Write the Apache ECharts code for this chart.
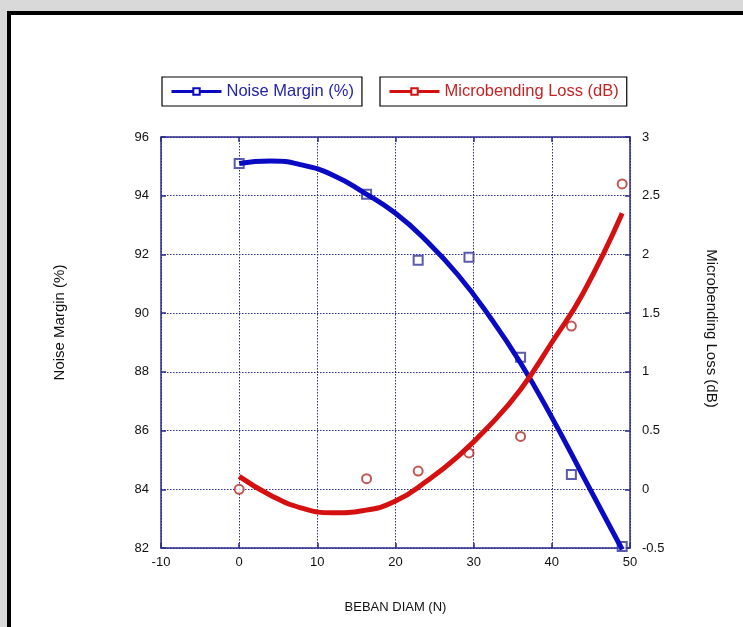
<!DOCTYPE html>
<html>
<head>
<meta charset="utf-8">
<script src="https://cdn.jsdelivr.net/npm/echarts@6/dist/echarts.min.js"></script>
<style>
  html, body { margin: 0; padding: 0; background: #d9d9d9; }
  #frame { position: absolute; left: 7px; top: 11px; width: 760px; height: 640px;
    background: #fff; border-left: 4px solid #000; border-top: 4px solid #000; }
  #chart { position: absolute; left: 0; top: 0; width: 743px; height: 627px; }
</style>
</head>
<body>
<div id="frame"></div>
<div id="chart"></div>
<script>
// measured points
const load = [0, 16.3, 22.9, 29.4, 36, 42.5, 49];
const noiseMargin = [95.1, 94.05, 91.8, 91.9, 88.5, 84.5, 82.05];
const bendLoss = [0, 0.09, 0.155, 0.31, 0.45, 1.39, 2.6];

// fitted trend curves
const fitLoad = [0, 4, 8, 12, 16, 20, 24, 28, 32, 36, 40, 44, 49];
const noiseFit = [95.1, 95.18, 95.05, 94.7, 94.1, 93.4, 92.45, 91.3, 89.9, 88.3, 86.45, 84.45, 81.95];
const lossFit = [0.11, -0.05, -0.16, -0.2, -0.18, -0.1, 0.07, 0.28, 0.54, 0.85, 1.25, 1.67, 2.35];

const navy = '#2b2b8c';
const blue = '#0a0ac4';
const red = '#d41010';
const labelFont = 'Liberation Sans, Arial, sans-serif';

const pairs = (xs, ys) => xs.map((x, i) => [x, ys[i]]);

const axisBase = {
  axisLine: { show: true, onZero: false, lineStyle: { color: navy, width: 1.5 } },
  axisTick: { show: true, inside: true, length: 5, lineStyle: { color: navy, width: 1.5 } },
  axisLabel: { color: '#111', fontSize: 13, fontFamily: labelFont },
  nameTextStyle: { color: '#111', fontSize: 15, fontFamily: labelFont },
};
const gridLine = { show: true, lineStyle: { color: navy, type: [1.5, 1.5], width: 1 } };

const legendBase = {
  top: 77, padding: [6, 8, 6, 8],
  borderColor: '#000', borderWidth: 1.2,
  itemWidth: 50, itemHeight: 8,
  lineStyle: { width: 3 },
  textStyle: { fontSize: 16.5, fontFamily: labelFont },
};

const chart = echarts.init(document.getElementById('chart'));

chart.setOption({
  backgroundColor: 'transparent',
  animation: false,
  grid: { left: 161, right: 113, top: 137, bottom: 79 },
  legend: [
    { ...legendBase, left: 162, data: [{ name: 'Noise Margin (%)', textStyle: { color: '#2424a8' } }] },
    { ...legendBase, left: 380, data: [{ name: 'Microbending Loss (dB)', textStyle: { color: '#c42424' } }] },
  ],
  xAxis: [
    {
      ...axisBase,
      type: 'value', min: -10, max: 50, interval: 10,
      name: 'BEBAN DIAM (N)', nameLocation: 'middle', nameGap: 53,
      nameTextStyle: { ...axisBase.nameTextStyle, fontSize: 13 },
      axisLabel: { ...axisBase.axisLabel, margin: 8 },
      splitLine: gridLine,
    },
    {
      ...axisBase,
      type: 'value', position: 'top', min: -10, max: 50, interval: 10,
      axisLabel: { show: false },
      splitLine: { show: false },
    },
  ],
  yAxis: [
    {
      ...axisBase,
      type: 'value', min: 82, max: 96, interval: 2,
      name: 'Noise Margin (%)', nameLocation: 'middle', nameGap: 94,
      nameTextStyle: { ...axisBase.nameTextStyle, padding: [0, 0, 0, 40] },
      axisLabel: { ...axisBase.axisLabel, margin: 12 },
      splitLine: gridLine,
    },
    {
      ...axisBase,
      type: 'value', position: 'right', min: -0.5, max: 3, interval: 0.5,
      name: 'Microbending Loss (dB)', nameLocation: 'middle', nameGap: 74, nameRotate: -90,
      nameTextStyle: { ...axisBase.nameTextStyle, padding: [0, 28, 0, 0] },
      axisLabel: { ...axisBase.axisLabel, margin: 12 },
      splitLine: { show: false },
    },
  ],
  series: [
    {
      name: 'Noise Margin (%)',
      type: 'line', smooth: 0.5,
      symbol: 'emptyRect', symbolSize: 8, showSymbol: false,
      itemStyle: { color: blue },
      lineStyle: { color: blue, width: 5 },
      data: pairs(fitLoad, noiseFit),
      z: 4,
    },
    {
      name: 'Microbending Loss (dB)',
      type: 'line', smooth: 0.5, yAxisIndex: 1,
      symbol: 'emptyRect', symbolSize: 8, showSymbol: false,
      itemStyle: { color: red },
      lineStyle: { color: red, width: 5 },
      data: pairs(fitLoad, lossFit),
      z: 4,
    },
    {
      name: 'Noise Margin data',
      type: 'scatter',
      symbol: 'emptyRect', symbolSize: 9,
      itemStyle: { color: '#32329a', borderWidth: 1.3 },
      data: pairs(load, noiseMargin),
      z: 2,
    },
    {
      name: 'Microbending Loss data',
      type: 'scatter', yAxisIndex: 1,
      symbol: 'emptyCircle', symbolSize: 9,
      itemStyle: { color: '#b42a2a', borderWidth: 1.3 },
      data: pairs(load, bendLoss),
      z: 2,
    },
  ],
});
</script>
</body>
</html>
